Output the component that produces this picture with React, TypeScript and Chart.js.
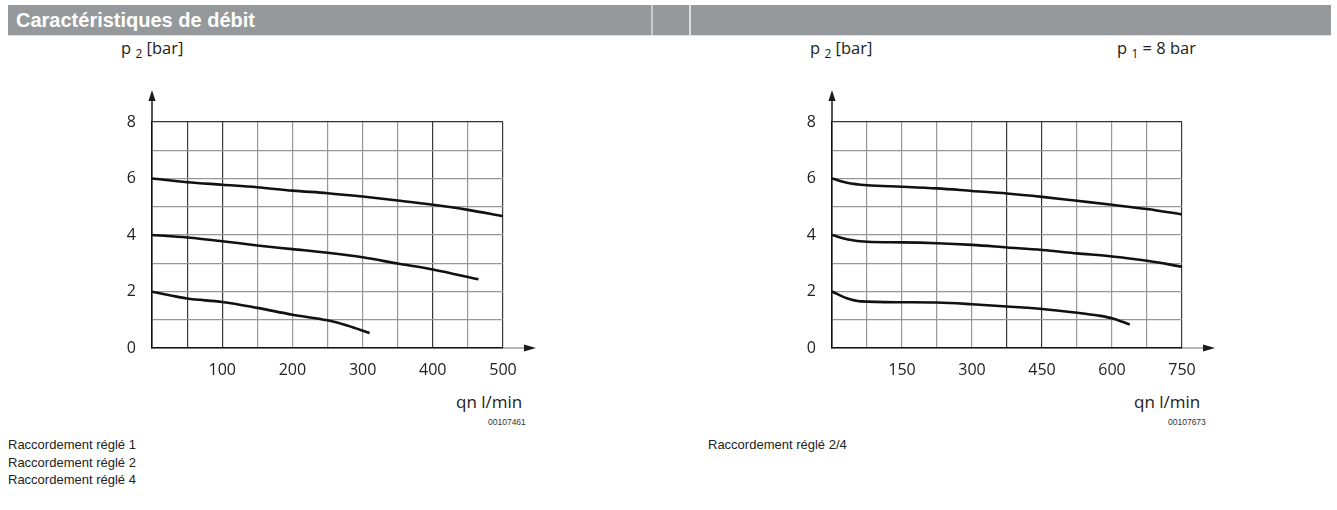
import React, { useEffect, useRef } from "react";
import { Chart, registerables } from "chart.js";

Chart.register(...registerables);

// ---------- Data: left chart (Raccordement réglé 1/2/4), qn 0..500 l/min ----------
const leftXTicksMax = 500;
const leftTopX = [0, 50, 100, 150, 200, 250, 300, 350, 400, 450, 500];
const leftTopY = [6.0, 5.87, 5.78, 5.69, 5.57, 5.48, 5.36, 5.22, 5.07, 4.89, 4.67];
const leftMidX = [0, 50, 100, 150, 200, 250, 300, 350, 400, 465];
const leftMidY = [4.0, 3.91, 3.78, 3.63, 3.5, 3.37, 3.21, 2.99, 2.78, 2.43];
const leftLowX = [0, 25, 50, 100, 150, 200, 250, 278, 310];
const leftLowY = [1.99, 1.87, 1.75, 1.63, 1.42, 1.18, 0.98, 0.8, 0.53];

// ---------- Data: right chart (Raccordement réglé 2/4), qn 0..750 l/min ----------
const rightXTicksMax = 750;
const rightTopX = [0, 32, 75, 150, 225, 300, 375, 450, 525, 600, 675, 750];
const rightTopY = [6.0, 5.85, 5.76, 5.71, 5.65, 5.56, 5.47, 5.35, 5.21, 5.07, 4.92, 4.73];
const rightMidX = [0, 32, 75, 150, 225, 300, 375, 450, 525, 600, 675, 750];
const rightMidY = [4.0, 3.85, 3.76, 3.74, 3.71, 3.65, 3.56, 3.47, 3.35, 3.24, 3.09, 2.88];
const rightLowX = [0, 32, 61, 150, 225, 300, 375, 450, 525, 570, 605, 638];
const rightLowY = [2.0, 1.76, 1.65, 1.62, 1.61, 1.55, 1.47, 1.38, 1.25, 1.15, 1.03, 0.83];

const yMax = 8;
const leftXStep = 50;
const leftLabelStep = 100;
const rightXStep = 75;
const rightLabelStep = 150;

// scan-like grid shading (darker lines)
const leftDarkX = [50, 100, 400, 500];
const rightDarkX = [375, 450, 750];

const pts = (xs: number[], ys: number[]) => xs.map((x, i) => ({ x, y: ys[i] }));

const arrowPlugin = {
  id: "axisArrows",
  afterDraw(chart: any) {
    const { ctx, chartArea: a } = chart;
    ctx.save();
    ctx.strokeStyle = "#1a1a1a";
    ctx.fillStyle = "#1a1a1a";
    ctx.lineWidth = 1.5;
    ctx.beginPath();
    ctx.moveTo(a.left, a.top);
    ctx.lineTo(a.left, a.top - 24);
    ctx.stroke();
    ctx.beginPath();
    ctx.moveTo(a.left, a.top - 32);
    ctx.lineTo(a.left - 3.5, a.top - 21);
    ctx.lineTo(a.left + 3.5, a.top - 21);
    ctx.closePath();
    ctx.fill();
    ctx.strokeStyle = "#888";
    ctx.lineWidth = 1.2;
    ctx.beginPath();
    ctx.moveTo(a.right, a.bottom);
    ctx.lineTo(a.right + 24, a.bottom);
    ctx.stroke();
    ctx.beginPath();
    ctx.moveTo(a.right + 33, a.bottom);
    ctx.lineTo(a.right + 21, a.bottom - 3.5);
    ctx.lineTo(a.right + 21, a.bottom + 3.5);
    ctx.closePath();
    ctx.fill();
    ctx.restore();
  },
};

type Props = {
  left: number;
  top: number;
  width: number;
  height: number;
  padRight: number;
  xMax: number;
  xStep: number;
  labelStep: number;
  dark: number[];
  series: { x: number[]; y: number[] }[];
};

function FlowChart(p: Props) {
  const ref = useRef<HTMLCanvasElement | null>(null);
  useEffect(() => {
    if (!ref.current) return;
    const chart = new Chart(ref.current, {
      type: "line",
      data: {
        datasets: p.series.map((s) => ({
          data: pts(s.x, s.y),
          borderColor: "#111",
          borderWidth: 2.6,
          pointRadius: 0,
          fill: false,
          cubicInterpolationMode: "monotone" as const,
        })),
      },
      options: {
        animation: false,
        responsive: false,
        devicePixelRatio: 1,
        layout: { padding: { top: 52, right: p.padRight, left: 0, bottom: 0 } },
        plugins: { legend: { display: false }, tooltip: { enabled: false } },
        scales: {
          x: {
            type: "linear",
            min: 0,
            max: p.xMax,
            afterFit: (s: any) => {
              s.height = 42;
            },
            border: { display: true, color: "#111", width: 1.6 },
            grid: {
              drawTicks: false,
              lineWidth: 1.2,
              color: (c: any) => (p.dark.includes(c.tick?.value) ? "#3a3a3a" : "#979797"),
            },
            ticks: {
              stepSize: p.xStep,
              autoSkip: false,
              maxRotation: 0,
              padding: 13,
              color: "#222",
              font: { family: "'Open Sans'", size: 16 },
              callback: (v: any) => (v > 0 && v % p.labelStep === 0 ? String(v) : ""),
            },
          },
          y: {
            type: "linear",
            min: 0,
            max: yMax,
            afterFit: (s: any) => {
              s.width = 52;
            },
            border: { display: true, color: "#111", width: 1.6 },
            grid: {
              drawTicks: false,
              lineWidth: 1.2,
              color: (c: any) => (c.tick?.value === yMax ? "#333" : "#979797"),
            },
            ticks: {
              stepSize: 1,
              autoSkip: false,
              padding: 16,
              color: "#222",
              font: { family: "'Open Sans'", size: 16 },
              callback: (v: any) => (v % 2 === 0 ? String(v) : ""),
            },
          },
        },
      },
      plugins: [arrowPlugin],
    } as any);
    return () => chart.destroy();
  }, []);
  return (
    <canvas
      ref={ref}
      width={p.width}
      height={p.height}
      style={{ position: "absolute", left: p.left, top: p.top, width: p.width, height: p.height }}
    />
  );
}

const abs = (left: number, top: number, extra: any = {}) => ({
  position: "absolute" as const,
  left,
  top,
  whiteSpace: "nowrap" as const,
  ...extra,
});

const chartFont = { fontFamily: "'Open Sans'", fontSize: 16.5, color: "#222", lineHeight: "20px" };

function PLabel({ left, top, sub, rest }: { left: number; top: number; sub: string; rest: string }) {
  return (
    <div style={abs(left, top, chartFont)}>
      p <span style={{ fontSize: 12, position: "relative", top: 4 }}>{sub}</span> {rest}
    </div>
  );
}

const captionFont = {
  fontFamily: "'Liberation Sans', Arial, sans-serif",
  fontSize: 13,
  color: "#222",
  lineHeight: "17.5px",
};

export default function App() {
  return (
    <div style={{ position: "absolute", left: 0, top: 0, width: 1337, height: 510, background: "#fff" }}>
      {/* header */}
      <div
        style={abs(8, 5, {
          width: 1323,
          height: 30,
          background: "#96999c",
          borderBottom: "1px solid #e2e2e2",
        })}
      />
      <div style={abs(651, 5, { width: 2, height: 30, background: "#c9cbcd" })} />
      <div style={abs(689, 5, { width: 2, height: 30, background: "#e0e0e0" })} />
      <div
        style={abs(16, 5, {
          height: 30,
          lineHeight: "30px",
          color: "#fff",
          fontFamily: "'Liberation Sans', Arial, sans-serif",
          fontWeight: "bold",
          fontSize: 20,
        })}
      >
        Caractéristiques de débit
      </div>

      {/* left chart */}
      <PLabel left={121} top={38} sub="2" rest="[bar]" />
      <FlowChart
        left={100}
        top={70}
        width={460}
        height={320}
        padRight={57}
        xMax={leftXTicksMax}
        xStep={leftXStep}
        labelStep={leftLabelStep}
        dark={leftDarkX}
        series={[
          { x: leftTopX, y: leftTopY },
          { x: leftMidX, y: leftMidY },
          { x: leftLowX, y: leftLowY },
        ]}
      />
      <div style={abs(456, 392, { ...chartFont, fontSize: 17 })}>qn l/min</div>
      <div style={abs(488, 417, { fontFamily: "'Liberation Sans', Arial", fontSize: 8.5, color: "#333", lineHeight: "10px" })}>
        00107461
      </div>

      {/* right chart */}
      <PLabel left={810} top={38} sub="2" rest="[bar]" />
      <PLabel left={1117} top={38} sub="1" rest="= 8 bar" />
      <FlowChart
        left={780}
        top={70}
        width={460}
        height={320}
        padRight={58}
        xMax={rightXTicksMax}
        xStep={rightXStep}
        labelStep={rightLabelStep}
        dark={rightDarkX}
        series={[
          { x: rightTopX, y: rightTopY },
          { x: rightMidX, y: rightMidY },
          { x: rightLowX, y: rightLowY },
        ]}
      />
      <div style={abs(1134, 392, { ...chartFont, fontSize: 17 })}>qn l/min</div>
      <div style={abs(1168, 417, { fontFamily: "'Liberation Sans', Arial", fontSize: 8.5, color: "#333", lineHeight: "10px" })}>
        00107673
      </div>

      {/* bottom captions */}
      <div style={abs(8, 436, captionFont)}>
        Raccordement réglé 1
        <br />
        Raccordement réglé 2
        <br />
        Raccordement réglé 4
      </div>
      <div style={abs(708, 436, captionFont)}>Raccordement réglé 2/4</div>
    </div>
  );
}
